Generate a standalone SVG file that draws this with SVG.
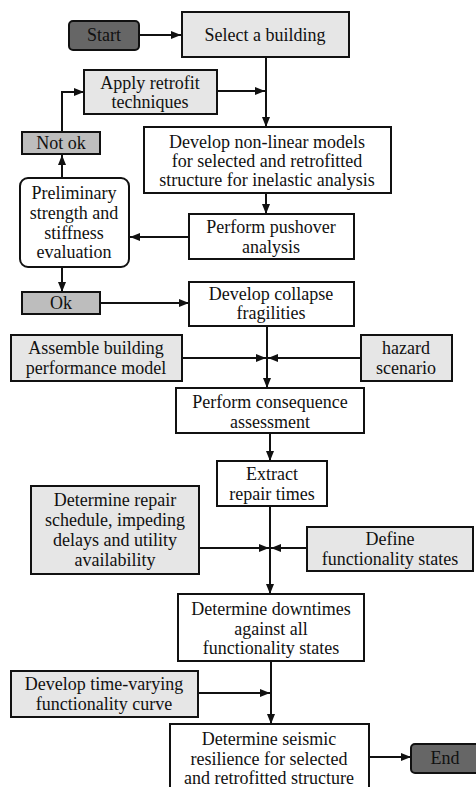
<svg xmlns="http://www.w3.org/2000/svg" width="476" height="787" viewBox="0 0 476 787" font-family="'Liberation Serif', 'Times New Roman', serif" font-size="18">
<style>
.box{stroke:#111;stroke-width:2;}
.w{fill:#fff}
.l{fill:#e6e6e6}
.g{fill:#bdbdbd}
.d{fill:#666}
text{fill:#111;text-anchor:middle}
.c{fill:none;stroke:#111;stroke-width:2}
</style>
<defs>
<marker id="a" markerUnits="userSpaceOnUse" markerWidth="10" markerHeight="10" viewBox="0 0 10 10" refX="10" refY="5" orient="auto">
<path d="M0,1 L10,5 L0,9 Z" fill="#111"/>
</marker>
</defs>
<rect width="476" height="787" fill="#fff"/>
<g id="connectors">
<path class="c" d="M140,35 H181" marker-end="url(#a)"/>
<path class="c" d="M266,57 V127" marker-end="url(#a)"/>
<path class="c" d="M217,91 H265" marker-end="url(#a)"/>
<path class="c" d="M62,132 V92 H84" marker-end="url(#a)"/>
<path class="c" d="M62,178 V155" marker-end="url(#a)"/>
<path class="c" d="M266,193 V214" marker-end="url(#a)"/>
<path class="c" d="M189,237 H130" marker-end="url(#a)"/>
<path class="c" d="M62,267 V292" marker-end="url(#a)"/>
<path class="c" d="M100,303 H189" marker-end="url(#a)"/>
<path class="c" d="M267,326 V388" marker-end="url(#a)"/>
<path class="c" d="M182,358 H266" marker-end="url(#a)"/>
<path class="c" d="M361,358 H268" marker-end="url(#a)"/>
<path class="c" d="M270,433 V461" marker-end="url(#a)"/>
<path class="c" d="M270,506 V594" marker-end="url(#a)"/>
<path class="c" d="M199,548 H269" marker-end="url(#a)"/>
<path class="c" d="M307,548 H271" marker-end="url(#a)"/>
<path class="c" d="M271,661 V724" marker-end="url(#a)"/>
<path class="c" d="M198,693 H270" marker-end="url(#a)"/>
<path class="c" d="M369,757 H411" marker-end="url(#a)"/>
</g>
<g id="start"><rect class="box d" x="69" y="21" width="70" height="29" rx="4"/><text x="104" y="41">Start</text></g>
<g id="select"><rect class="box l" x="182" y="12" width="167" height="45"/><text x="265" y="41">Select a building</text></g>
<g id="apply"><rect class="box l" x="84" y="70" width="133" height="44"/><text x="150" y="89">Apply retrofit</text><text x="150" y="108">techniques</text></g>
<g id="notok"><rect class="box g" x="22" y="132" width="78" height="22"/><text x="61" y="149">Not ok</text></g>
<g id="develop"><rect class="box w" x="144" y="127" width="247" height="66"/><text x="267" y="148">Develop non-linear models</text><text x="267" y="167">for selected and retrofitted</text><text x="267" y="186">structure for inelastic analysis</text></g>
<g id="prelim"><rect class="box w" x="20" y="178" width="109" height="89" rx="8"/><text x="74" y="199">Preliminary</text><text x="74" y="219">strength and</text><text x="74" y="239">stiffness</text><text x="74" y="258">evaluation</text></g>
<g id="pushover"><rect class="box w" x="189" y="214" width="165" height="45"/><text x="271" y="233">Perform pushover</text><text x="271" y="253">analysis</text></g>
<g id="ok"><rect class="box g" x="22" y="292" width="78" height="22"/><text x="61" y="309">Ok</text></g>
<g id="collapse"><rect class="box w" x="189" y="282" width="165" height="44"/><text x="271" y="300">Develop collapse</text><text x="271" y="319">fragilities</text></g>
<g id="assemble"><rect class="box l" x="11" y="335" width="171" height="46"/><text x="96" y="354">Assemble building</text><text x="96" y="374">performance model</text></g>
<g id="hazard"><rect class="box l" x="361" y="335" width="91" height="46"/><text x="406" y="354">hazard</text><text x="406" y="374">scenario</text></g>
<g id="consequence"><rect class="box w" x="176" y="388" width="188" height="45"/><text x="270" y="408">Perform consequence</text><text x="270" y="428">assessment</text></g>
<g id="extract"><rect class="box w" x="217" y="461" width="110" height="45"/><text x="272" y="480">Extract</text><text x="272" y="500">repair times</text></g>
<g id="repair"><rect class="box l" x="31" y="486" width="168" height="88"/><text x="115" y="506">Determine repair</text><text x="115" y="526">schedule, impeding</text><text x="115" y="546">delays and utility</text><text x="115" y="566">availability</text></g>
<g id="define"><rect class="box l" x="307" y="527" width="166" height="44"/><text x="390" y="545">Define</text><text x="390" y="565">functionality states</text></g>
<g id="downtimes"><rect class="box w" x="178" y="594" width="186" height="67"/><text x="271" y="615">Determine downtimes</text><text x="271" y="635">against all</text><text x="271" y="654">functionality states</text></g>
<g id="timevarying"><rect class="box l" x="11" y="671" width="187" height="46"/><text x="104" y="690">Develop time-varying</text><text x="104" y="710">functionality curve</text></g>
<g id="seismic"><rect class="box w" x="170" y="724" width="199" height="70"/><text x="269" y="745">Determine seismic</text><text x="269" y="765">resilience for selected</text><text x="269" y="784">and retrofitted structure</text></g>
<g id="end"><rect class="box d" x="411" y="744" width="70" height="29" rx="4"/><text x="445" y="764">End</text></g>
</svg>
